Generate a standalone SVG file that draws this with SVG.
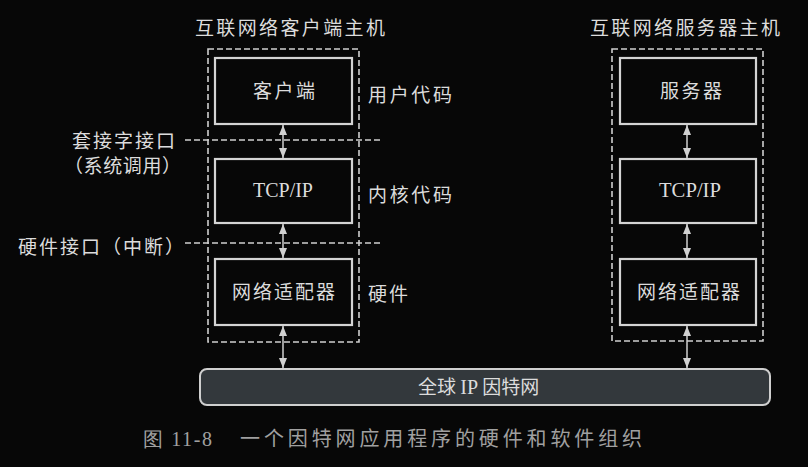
<svg xmlns="http://www.w3.org/2000/svg" width="808" height="467" viewBox="0 0 808 467">
<style>
.bg{fill:#070707}
.box{fill:none;stroke:#d4d4d4;stroke-width:2.2}
.dash{fill:none;stroke:#cfcfcf;stroke-width:1.6;stroke-dasharray:6,3}
.t{font-family:"Noto Sans CJK SC","Liberation Sans",sans-serif;fill:#dcdcdc;font-size:19px}
.s{font-family:"Liberation Serif","Noto Sans CJK SC",serif;fill:#dcdcdc;font-size:20px}
.cap{font-family:"Noto Sans CJK SC","Liberation Sans",sans-serif;fill:#a0a0a0;font-size:20px}
.capn{font-family:"Liberation Serif",serif;fill:#a0a0a0;font-size:20px}
.conn{stroke:#d0d0d0;stroke-width:1.5;fill:none;marker-start:url(#ah);marker-end:url(#ah)}
</style>
<defs>
<marker id="ah" viewBox="0 0 10 8" refX="10" refY="4" markerWidth="10" markerHeight="8" orient="auto-start-reverse" markerUnits="userSpaceOnUse">
<path d="M0,0 L10,4 L0,8 z" fill="#d0d0d0"/>
</marker>
</defs>
<rect class="bg" x="0" y="0" width="808" height="467"/>

<g id="client-host">
<text class="t" x="195" y="35" textLength="190" lengthAdjust="spacing">互联网络客户端主机</text>
<rect class="dash" x="208" y="49" width="151" height="293"/>
</g>
<g id="client">
<rect class="box" x="215" y="58" width="137" height="66"/>
<text class="t" x="253" y="98" textLength="62" lengthAdjust="spacing">客户端</text>
</g>
<g id="client-tcpip">
<rect class="box" x="215" y="159" width="137" height="64"/>
<text class="s" x="253" y="197" textLength="60" lengthAdjust="spacingAndGlyphs">TCP/IP</text>
</g>
<g id="client-adapter">
<rect class="box" x="215" y="259" width="137" height="66"/>
<text class="t" x="232" y="299" textLength="103" lengthAdjust="spacing">网络适配器</text>
</g>

<g id="server-host">
<text class="t" x="590" y="35" textLength="190" lengthAdjust="spacing">互联网络服务器主机</text>
<rect class="dash" x="612" y="49" width="151" height="292"/>
</g>
<g id="server">
<rect class="box" x="620" y="58" width="136" height="66"/>
<text class="t" x="660" y="98" textLength="62" lengthAdjust="spacing">服务器</text>
</g>
<g id="server-tcpip">
<rect class="box" x="620" y="159" width="136" height="64"/>
<text class="s" x="659" y="197" textLength="62" lengthAdjust="spacingAndGlyphs">TCP/IP</text>
</g>
<g id="server-adapter">
<rect class="box" x="620" y="259" width="136" height="66"/>
<text class="t" x="637" y="299" textLength="103" lengthAdjust="spacing">网络适配器</text>
</g>

<g id="internet">
<rect x="200" y="369" width="570" height="36" rx="7" fill="#33383c" stroke="#cfcfcf" stroke-width="2"/>
<text class="t" x="418" y="394">全球 <tspan font-family="Liberation Serif, serif" font-size="20">IP</tspan> 因特网</text>
</g>

<g id="labels">
<text class="t" x="368" y="102" textLength="84" lengthAdjust="spacing">用户代码</text>
<text class="t" x="368" y="202" textLength="84" lengthAdjust="spacing">内核代码</text>
<text class="t" x="368" y="301" textLength="40" lengthAdjust="spacing">硬件</text>
<text class="t" x="72" y="148" textLength="103" lengthAdjust="spacing">套接字接口</text>
<text class="t" x="64" y="173" textLength="117" lengthAdjust="spacing">（系统调用）</text>
<text class="t" x="18" y="254" textLength="166" lengthAdjust="spacing">硬件接口（中断）</text>
</g>

<g id="connectors">
<line class="dash" x1="185" y1="140" x2="380" y2="140"/>
<line class="dash" x1="185" y1="243" x2="380" y2="243"/>
<line class="conn" x1="283" y1="125" x2="283" y2="158"/>
<line class="conn" x1="283" y1="224" x2="283" y2="258"/>
<line class="conn" x1="283" y1="326" x2="283" y2="368"/>
<line class="conn" x1="687" y1="125" x2="687" y2="158"/>
<line class="conn" x1="687" y1="224" x2="687" y2="258"/>
<line class="conn" x1="687" y1="326" x2="687" y2="368"/>
</g>

<g id="caption">
<text class="capn" x="143" y="446" textLength="69" lengthAdjust="spacing">图 11-8</text>
<text class="cap" x="240" y="446" textLength="402" lengthAdjust="spacing">一个因特网应用程序的硬件和软件组织</text>
</g>
</svg>
